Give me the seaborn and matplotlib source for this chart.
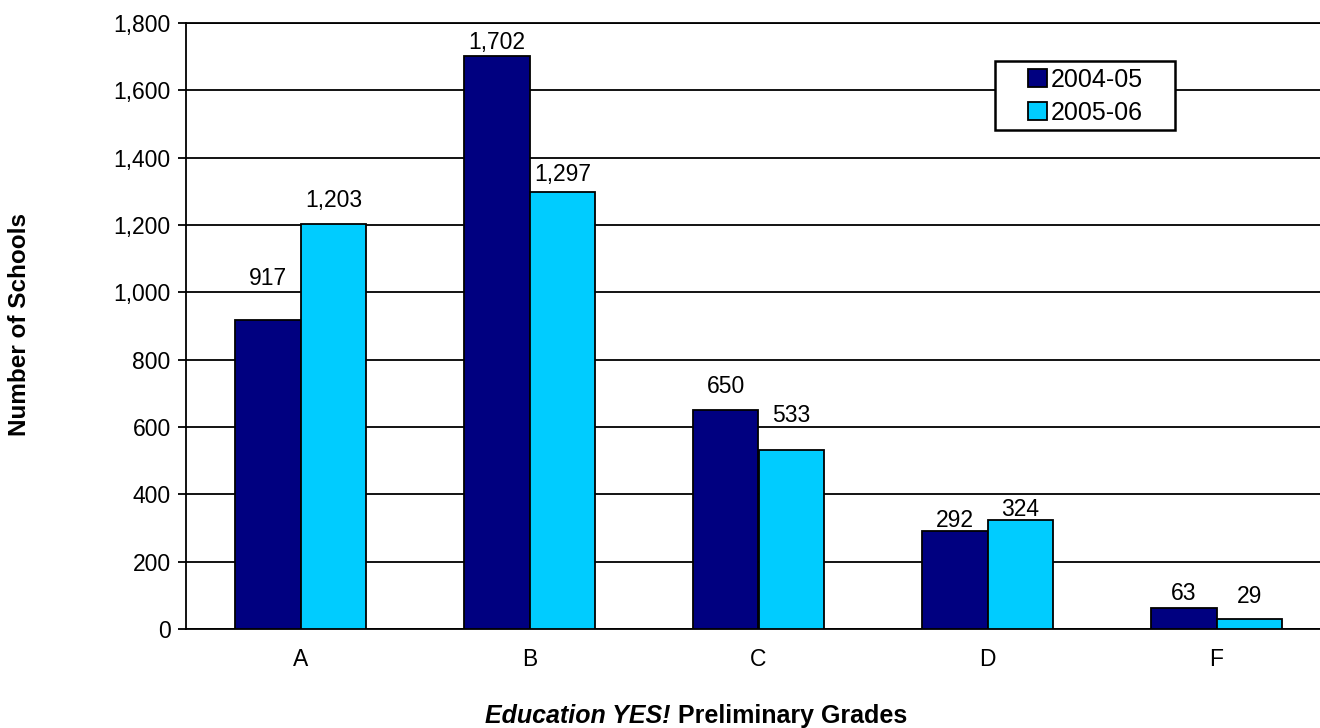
import numpy as np
import pandas as pd
import matplotlib
matplotlib.use('Agg')
import matplotlib.pyplot as plt
import seaborn as sns
from matplotlib.patches import Patch, Rectangle

grades = ['A', 'B', 'C', 'D', 'F']
years = ['2004-05', '2005-06']
schools_0405 = [917, 1702, 650, 292, 63]
schools_0506 = [1203, 1297, 533, 324, 29]
yticks = [0, 200, 400, 600, 800, 1000, 1200, 1400, 1600, 1800]

colors = ['#000080', '#00CCFF']
# gap (px) between bar top and label baseline, as Excel placed them
label_gap = [[35, 17], [7, 11], [17, 28], [4, 4], [8, 16]]

df = pd.DataFrame({
    'Grade': grades * 2,
    'Schools': schools_0405 + schools_0506,
    'Year': [years[0]] * 5 + [years[1]] * 5
})

sns.set_style('white')
plt.rcParams['font.family'] = ['Liberation Sans', 'DejaVu Sans']
plt.rcParams['text.color'] = 'black'
plt.rcParams['axes.labelcolor'] = 'black'
plt.rcParams['xtick.color'] = 'black'
plt.rcParams['ytick.color'] = 'black'

W, H = 1320, 728
fig = plt.figure(figsize=(13.2, 7.28), dpi=100)
ax_l, ax_b, ax_w, ax_h = 186, 99, 1145, 606
ax = fig.add_axes([ax_l/W, ax_b/H, ax_w/W, ax_h/H])

sns.barplot(
    data=df,
    x='Grade',
    y='Schools',
    hue='Year',
    palette=colors,
    width=0.575,
    saturation=1,
    edgecolor='black',
    linewidth=1.3,
    ax=ax,
    zorder=3
)

ax.set_xlim(-0.5, 4.5)
ax.set_ylim(0, 1800)
ax.set_yticks(yticks)
ax.set_yticklabels([f'{v:,}' for v in yticks], fontsize=16.5)
ax.yaxis.grid(True, color='black', linewidth=1.3, zorder=0)
ax.set_axisbelow(True)

ax.set_xticks(range(len(grades)))
ax.set_xticklabels(grades, fontsize=16.5)
ax.set_xticks(np.arange(-0.5, 5, 1), minor=True)
ax.tick_params(axis='x', which='major', length=0, pad=14)
ax.tick_params(axis='x', which='minor', length=7, width=1.3, direction='out', color='black')
ax.tick_params(axis='y', length=6, width=1.3, direction='out', color='black', pad=5, left=True)
ax.set_xlabel('')
ax.set_ylabel('')

for side in ['left', 'bottom', 'top']:
    ax.spines[side].set_color('black')
    ax.spines[side].set_linewidth(1.3)
ax.spines['right'].set_visible(False)

for i, container in enumerate(ax.containers):
    for j, bar in enumerate(container):
        h = bar.get_height()
        ax.annotate(
            f'{h:,.0f}',
            (bar.get_x() + bar.get_width() / 2, h),
            xytext=(0, label_gap[j][i] * 0.72),
            textcoords='offset points',
            ha='center',
            va='baseline',
            fontsize=16.5,
            color='black'
        )


def to_axes(px, py):
    # image pixel (from top-left) -> axes fraction
    return (px - ax_l) / ax_w, (H - py - ax_b) / ax_h


# legend box (white, black border) like the Excel one
bx0, by0 = to_axes(995, 130)
bx1, by1 = to_axes(1175, 61)
box = Rectangle((bx0, by0), bx1 - bx0, by1 - by0, transform=ax.transAxes,
                facecolor='white', edgecolor='black', linewidth=1.8,
                zorder=4.5, clip_on=False)
ax.add_patch(box)

handles = [Patch(facecolor=c, edgecolor='black', linewidth=1.3) for c in colors]
leg = ax.legend(
    handles,
    years,
    loc='upper left',
    bbox_to_anchor=to_axes(1028, 68),
    borderaxespad=0,
    borderpad=0,
    fontsize=18,
    frameon=False,
    handlelength=0.75,
    handleheight=0.75,
    handletextpad=0.15,
    labelspacing=0.35
)
leg.set_zorder(5)

fig.text(20/W, 1 - 325/H, 'Number of Schools', rotation=90,
         ha='center', va='center', fontsize=17.5, fontweight='bold')

# x label: italic part + bold part, centred together
renderer = fig.canvas.get_renderer()
t1 = fig.text(0, 12/H, 'Education YES!', fontsize=18, fontweight='bold',
              fontstyle='italic', ha='left', va='center')
t2 = fig.text(0, 12/H, ' Preliminary Grades', fontsize=18, fontweight='bold',
              ha='left', va='center')
w1 = t1.get_window_extent(renderer).width
w2 = t2.get_window_extent(renderer).width
x0 = 696 - (w1 + w2) / 2
t1.set_x(x0 / W)
t2.set_x((x0 + w1) / W)

fig.savefig('out.png', dpi=100)
